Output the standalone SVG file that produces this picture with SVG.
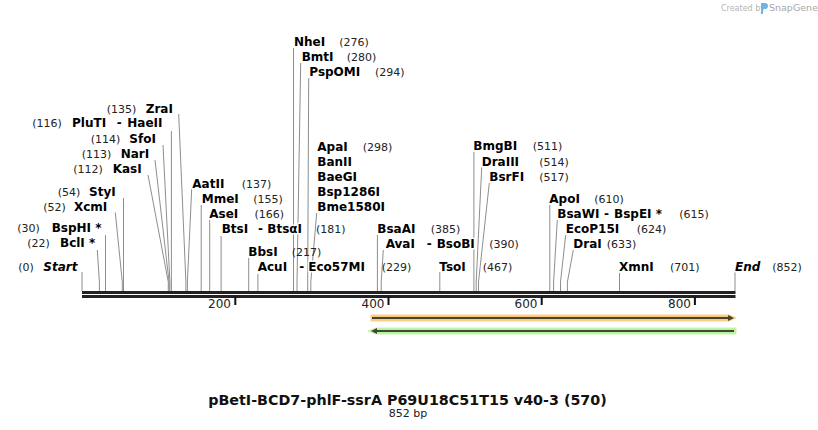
<svg xmlns="http://www.w3.org/2000/svg" width="818" height="430" viewBox="0 0 818 430">
<style>
text{font-family:"DejaVu Sans","Verdana",sans-serif}
.nm{font-size:12px;font-weight:bold;fill:#000;stroke:#fff;stroke-width:3px;paint-order:stroke;stroke-linejoin:round}
.it{font-style:italic}
.num{font-size:11px;fill:#222}
.tk{font-size:12px;fill:#222;text-anchor:end}
.ln{fill:none;stroke:#8e8e8e;stroke-width:1}
</style>
<rect width="818" height="430" fill="#fff"/>
<g id="watermark">
<text x="721" y="11" font-size="8" fill="#b4b4b4">Created by</text>
<path d="M761,3 h4 a3,3 0 0 1 0,6 h-2 v5 h-2 z" fill="#6fb4e8"/>
<text x="769" y="11" font-size="9.5" fill="#a8a8a8">SnapGene</text>
</g>
<g id="connectors">
<line class="ln" x1="82" y1="272" x2="82" y2="291"/>
<polyline class="ln" points="97.3,250 99.4,282 99.4,291"/>
<line class="ln" x1="105.5" y1="235" x2="105.5" y2="291"/>
<polyline class="ln" points="115.3,212.5 122.3,282 122.3,291"/>
<line class="ln" x1="123.5" y1="198" x2="123.5" y2="291"/>
<polyline class="ln" points="148,175 168.3,282 168.3,291"/>
<polyline class="ln" points="155,160 169.1,282 169.1,291"/>
<polyline class="ln" points="163,145 169.9,282 169.9,291"/>
<line class="ln" x1="171.4" y1="131" x2="171.4" y2="291"/>
<polyline class="ln" points="178.7,114 185.9,282 185.9,291"/>
<polyline class="ln" points="191.7,189 187.4,282 187.4,291"/>
<line class="ln" x1="201.2" y1="205" x2="201.2" y2="291"/>
<line class="ln" x1="209.7" y1="220" x2="209.7" y2="291"/>
<line class="ln" x1="221.1" y1="236" x2="221.1" y2="291"/>
<line class="ln" x1="248.7" y1="258" x2="248.7" y2="291"/>
<line class="ln" x1="257.9" y1="274" x2="257.9" y2="291"/>
<line class="ln" x1="293.5" y1="48" x2="293.5" y2="291"/>
<polyline class="ln" points="300.7,63 297,282 297,291"/>
<polyline class="ln" points="308.7,78 307.7,282 307.7,291"/>
<polyline class="ln" points="316.7,213 310.8,282 310.8,291"/>
<line class="ln" x1="377.4" y1="235" x2="377.4" y2="291"/>
<polyline class="ln" points="383.3,250 381.2,282 381.2,291"/>
<line class="ln" x1="439.8" y1="272" x2="439.8" y2="291"/>
<line class="ln" x1="473.9" y1="152" x2="473.9" y2="291"/>
<polyline class="ln" points="481.7,167.5 476.2,282 476.2,291"/>
<polyline class="ln" points="489.3,183 478.5,282 478.5,291"/>
<line class="ln" x1="549.8" y1="205" x2="549.8" y2="291"/>
<polyline class="ln" points="557.3,220 553.6,282 553.6,291"/>
<polyline class="ln" points="565.7,235 560.5,282 560.5,291"/>
<polyline class="ln" points="573.3,250 567.4,282 567.4,291"/>
<line class="ln" x1="619.5" y1="273" x2="619.5" y2="291"/>
<line class="ln" x1="735" y1="272" x2="735" y2="291"/>
</g>
<g id="sequence">
<rect x="82" y="291" width="653.5" height="3" fill="#222"/>
<rect x="82" y="295" width="653.5" height="3" fill="#222"/>
<rect x="234.3" y="297" width="2" height="8" fill="#111"/>
<rect x="387.5" y="297" width="2" height="8" fill="#111"/>
<rect x="540.7" y="297" width="2" height="8" fill="#111"/>
<rect x="693.9" y="297" width="2" height="8" fill="#111"/>
<text class="tk" x="231" y="308">200</text>
<text class="tk" x="384.5" y="308">400</text>
<text class="tk" x="537.5" y="308">600</text>
<text class="tk" x="691" y="308">800</text>
</g>
<g id="feature-forward">
<path d="M371,315 H729 L736,318 L729,321 H371 Z" fill="#fbc97a" stroke="#fbd394" stroke-width="1"/>
<line x1="372" y1="318" x2="731" y2="318" stroke="#4a4230" stroke-width="2"/>
<path d="M728,315 L734,318 L728,321 Z" fill="#4a4230"/>
</g>
<g id="feature-reverse">
<path d="M736,328 H376 L368,331 L376,334 H736 Z" fill="#b8f29a" stroke="#c6f5ae" stroke-width="1"/>
<line x1="374" y1="331" x2="734" y2="331" stroke="#3e4a36" stroke-width="2"/>
<path d="M377,328 L371,331 L377,334 Z" fill="#3e4a36"/>
</g>
<g id="start"><text class="num" x="18.3" y="271">(0)</text><text class="nm it" x="43.3" y="271">Start</text></g>
<g id="BclI"><text class="num" x="27.3" y="247">(22)</text><text class="nm" x="60" y="247">BclI *</text></g>
<g id="BspHI"><text class="num" x="17.3" y="232">(30)</text><text class="nm" x="51.7" y="232">BspHI *</text></g>
<g id="XcmI"><text class="num" x="43.3" y="211">(52)</text><text class="nm" x="74" y="211">XcmI</text></g>
<g id="StyI"><text class="num" x="57.7" y="196">(54)</text><text class="nm" x="89" y="196">StyI</text></g>
<g id="KasI"><text class="num" x="73.3" y="173">(112)</text><text class="nm" x="112.7" y="173">KasI</text></g>
<g id="NarI"><text class="num" x="81.7" y="158">(113)</text><text class="nm" x="120.7" y="158">NarI</text></g>
<g id="SfoI"><text class="num" x="90.7" y="143">(114)</text><text class="nm" x="129.3" y="143">SfoI</text></g>
<g id="PluTI"><text class="num" x="32.3" y="127">(116)</text><text class="nm" x="72" y="127">PluTI</text><text class="nm" x="116.7" y="127">-</text><text class="nm" x="127.3" y="127">HaeII</text></g>
<g id="ZraI"><text class="num" x="106.7" y="113">(135)</text><text class="nm" x="145.7" y="113">ZraI</text></g>
<g id="AatII"><text class="nm" x="192.3" y="188">AatII</text><text class="num" x="241.7" y="188">(137)</text></g>
<g id="MmeI"><text class="nm" x="201.7" y="203">MmeI</text><text class="num" x="253.3" y="203">(155)</text></g>
<g id="AseI"><text class="nm" x="209.3" y="218">AseI</text><text class="num" x="254.5" y="218">(166)</text></g>
<g id="BtsI"><text class="nm" x="221.7" y="233">BtsI</text><text class="nm" x="258" y="233">-</text><text class="nm" x="267.3" y="233">BtsαI</text><text class="num" x="316" y="233">(181)</text></g>
<g id="BbsI"><text class="nm" x="248.3" y="256">BbsI</text><text class="num" x="291.7" y="256">(217)</text></g>
<g id="AcuI"><text class="nm" x="257.7" y="271">AcuI</text><text class="nm" x="299.3" y="271">-</text><text class="nm" x="308.3" y="271">Eco57MI</text><text class="num" x="381.7" y="271">(229)</text></g>
<g id="NheI"><text class="nm" x="294" y="46">NheI</text><text class="num" x="339.3" y="46">(276)</text></g>
<g id="BmtI"><text class="nm" x="301.7" y="61">BmtI</text><text class="num" x="346.7" y="61">(280)</text></g>
<g id="PspOMI"><text class="nm" x="309.3" y="76">PspOMI</text><text class="num" x="375" y="76">(294)</text></g>
<g id="ApaI"><text class="nm" x="317.3" y="151">ApaI</text><text class="num" x="362.7" y="151">(298)</text><text class="nm" x="317.3" y="166">BanII</text><text class="nm" x="317.3" y="181">BaeGI</text><text class="nm" x="317.3" y="196">Bsp1286I</text><text class="nm" x="317.3" y="211">Bme1580I</text></g>
<g id="BsaAI"><text class="nm" x="377.3" y="233">BsaAI</text><text class="num" x="430.7" y="233">(385)</text></g>
<g id="AvaI"><text class="nm" x="385.7" y="248">AvaI</text><text class="nm" x="426.7" y="248">-</text><text class="nm" x="436.7" y="248">BsoBI</text><text class="num" x="489.3" y="248">(390)</text></g>
<g id="TsoI"><text class="nm" x="439.3" y="271">TsoI</text><text class="num" x="482.7" y="271">(467)</text></g>
<g id="BmgBI"><text class="nm" x="473.3" y="150">BmgBI</text><text class="num" x="532.7" y="150">(511)</text></g>
<g id="DraIII"><text class="nm" x="481.7" y="166">DraIII</text><text class="num" x="539.3" y="166">(514)</text></g>
<g id="BsrFI"><text class="nm" x="489.3" y="181">BsrFI</text><text class="num" x="539.3" y="181">(517)</text></g>
<g id="ApoI"><text class="nm" x="549.3" y="203">ApoI</text><text class="num" x="594.3" y="203">(610)</text></g>
<g id="BsaWI"><text class="nm" x="557.3" y="218">BsaWI</text><text class="nm" x="604" y="218">-</text><text class="nm" x="614" y="218">BspEI *</text><text class="num" x="679.3" y="218">(615)</text></g>
<g id="EcoP15I"><text class="nm" x="565.7" y="233">EcoP15I</text><text class="num" x="636.7" y="233">(624)</text></g>
<g id="DraI"><text class="nm" x="573.3" y="248">DraI</text><text class="num" x="606.7" y="248">(633)</text></g>
<g id="XmnI"><text class="nm" x="619" y="271">XmnI</text><text class="num" x="670" y="271">(701)</text></g>
<g id="end"><text class="nm it" x="735" y="271">End</text><text class="num" x="772.3" y="271">(852)</text></g>
<g id="title">
<text x="407.5" y="405" font-size="14.3" font-weight="bold" text-anchor="middle" fill="#111">pBetI-BCD7-phlF-ssrA P69U18C51T15 v40-3 (570)</text>
<text x="408" y="417" font-size="11" text-anchor="middle" fill="#222">852 bp</text>
</g>
</svg>
